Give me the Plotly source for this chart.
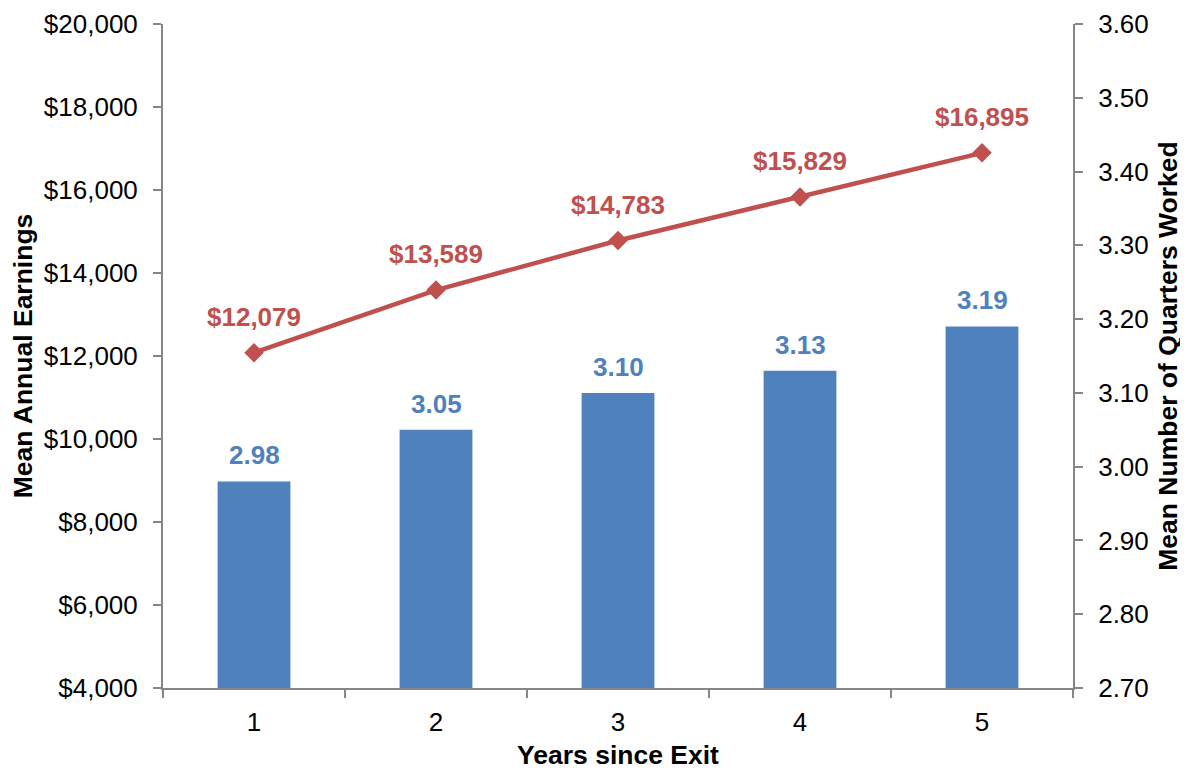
import plotly.graph_objects as go

years = ["1", "2", "3", "4", "5"]
quarters = [2.98, 3.05, 3.10, 3.13, 3.19]
earnings = [12079, 13589, 14783, 15829, 16895]

bar_color = "#4F81BD"
line_color = "#C0504D"
font_family = "Liberation Sans, Arial, sans-serif"

fig = go.Figure()
fig.add_trace(go.Bar(
    x=years, y=quarters, yaxis="y", width=0.4,
    marker=dict(color=bar_color, line=dict(width=0)),
    showlegend=False,
))
fig.add_trace(go.Scatter(
    x=years, y=earnings, yaxis="y2", mode="lines+markers",
    line=dict(color=line_color, width=4.5),
    marker=dict(symbol="diamond", size=15, color=line_color),
    showlegend=False,
))

for i, v in enumerate(quarters):
    fig.add_annotation(x=i, y=v, xref="x", yref="y", text=f"<b>{v:.2f}</b>",
                       showarrow=False, yanchor="bottom", yshift=9,
                       font=dict(color=bar_color, size=26, family=font_family))
for i, v in enumerate(earnings):
    fig.add_annotation(x=i, y=v, xref="x", yref="y2", text=f"<b>${v:,}</b>",
                       showarrow=False, yanchor="bottom", yshift=19,
                       font=dict(color=line_color, size=26, family=font_family))

axis_common = dict(showgrid=False, zeroline=False, showline=True, linecolor="#868686",
                   linewidth=2, ticks="outside", ticklen=8, tickcolor="#868686", tickwidth=2,
                   automargin=False, ticklabelstandoff=10,
                   tickfont=dict(size=26, color="black", family=font_family))

W, H = 1180, 762
fig.update_layout(
    width=W, height=H,
    margin=dict(l=155, r=W - 1065, t=16, b=H - 680),
    plot_bgcolor="white", paper_bgcolor="white",
    font=dict(family=font_family, color="black"),
    xaxis=dict(type="category", tickson="boundaries", **axis_common,
               title=dict(text="<b>Years since Exit</b>", font=dict(size=26.5), standoff=13)),
    yaxis=dict(side="right", range=[2.70, 3.60], dtick=0.1, tickformat=".2f", **axis_common,
               title=dict(text="<b>Mean Number of Quarters Worked</b>", font=dict(size=26.5), standoff=11)),
    yaxis2=dict(side="left", overlaying="y", range=[4000, 20000], dtick=2000,
                tickprefix="$", tickformat=",d", **axis_common,
                title=dict(text="<b>Mean Annual Earnings</b>", font=dict(size=26.5), standoff=9)),
)

fig.write_html("out.html")
